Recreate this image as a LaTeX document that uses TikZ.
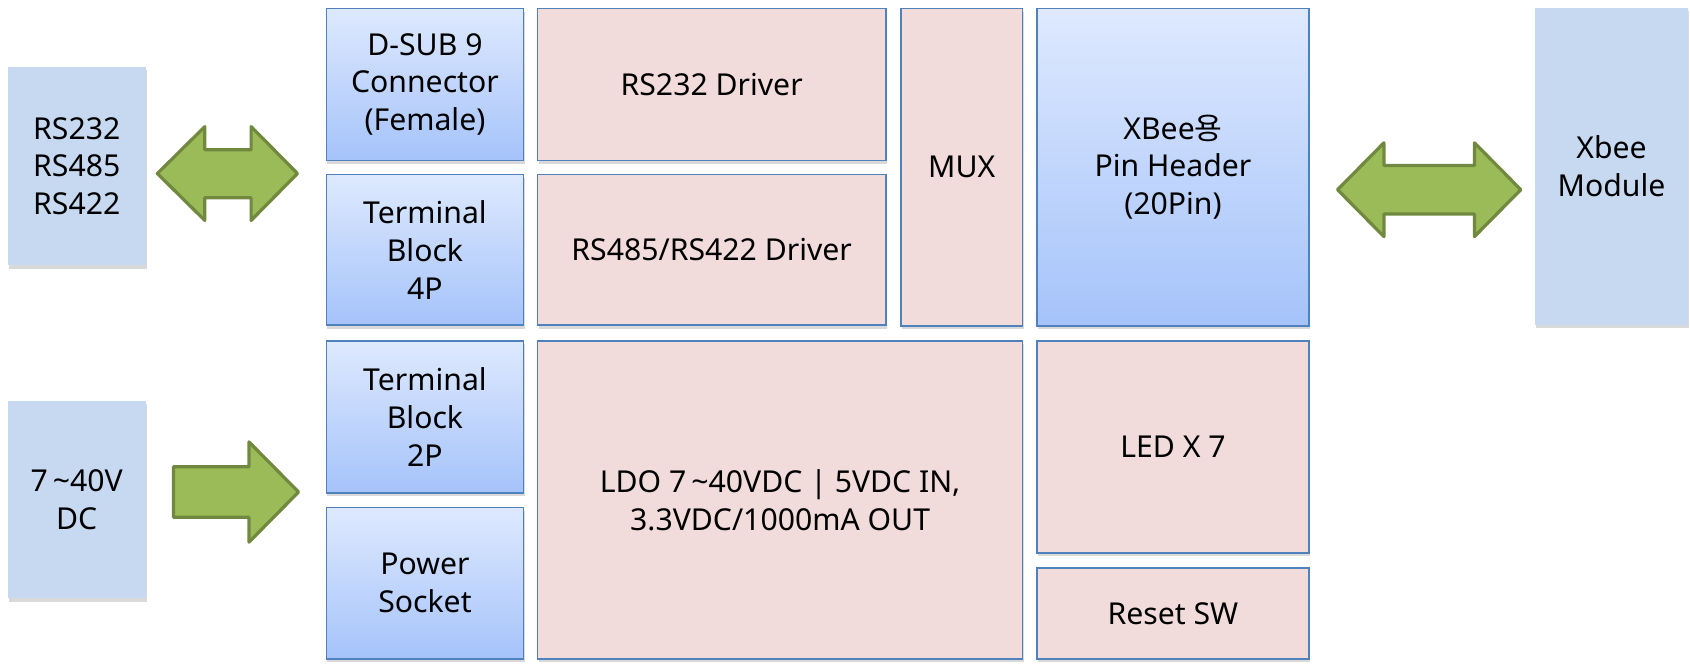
\documentclass[tikz,border=0pt]{standalone}
\usepackage{fontspec}
\setmainfont{Noto Sans}
\newfontfamily\krfont{Noto Sans CJK KR}
\usetikzlibrary{shadows}
\definecolor{bord}{HTML}{4F81BD}
\definecolor{pinkfill}{HTML}{F2DCDB}
\definecolor{lightblue}{HTML}{C6D9F1}
\definecolor{gtop}{HTML}{DEE9FE}
\definecolor{gbot}{HTML}{A5C3FA}
\definecolor{arrfill}{HTML}{9BBB59}
\definecolor{arrdraw}{HTML}{71893F}
\newcommand{\tld}{\,\textasciitilde}
\tikzset{
  lbl/.style={font=\fontsize{28}{35}\selectfont, align=center, text=black, inner sep=0pt, anchor=north west},
  shadowed/.style={drop shadow={shadow xshift=1pt, shadow yshift=-3pt, opacity=0.15, fill=black}},
  plainbox/.style={lbl, fill=lightblue, shadowed},
  gradbox/.style={lbl, draw=bord, line width=1.6pt, top color=gtop, bottom color=gbot, shadowed},
  pinkbox/.style={lbl, draw=bord, line width=1.6pt, fill=pinkfill, shadowed},
  blockarrow/.style={fill=arrfill, draw=arrdraw, line width=3pt, line join=round}
}
\begin{document}
\begin{tikzpicture}[x=1pt,y=-1pt]
\useasboundingbox (0,0) rectangle (1568,616);
% left column
\node[plainbox, minimum width=128pt, minimum height=184pt] (rs) at (7,62) {RS232\\RS485\\RS422};
\node[plainbox, minimum width=128pt, minimum height=183pt] (dc) at (7,372) {7\tld40V\\DC};
% connectors column
\node[gradbox, minimum width=183pt, minimum height=141pt] (dsub) at (302,7) {D-SUB 9\\Connector\\(Female)};
\node[gradbox, minimum width=183pt, minimum height=140pt] (tb4) at (302,161) {Terminal\\Block\\4P};
\node[gradbox, minimum width=183pt, minimum height=141pt] (tb2) at (302,315.5) {Terminal\\Block\\2P};
\node[gradbox, minimum width=183pt, minimum height=140.5pt] (ps) at (302,470) {Power\\Socket};
% drivers
\node[pinkbox, minimum width=323pt, minimum height=141pt] (d232) at (498,7) {RS232 Driver};
\node[pinkbox, minimum width=323pt, minimum height=140pt] (d485) at (498,161) {RS485/RS422 Driver};
\node[pinkbox, minimum width=113pt, minimum height=294.5pt] (mux) at (835,7) {MUX};
\node[pinkbox, minimum width=450pt, minimum height=295pt] (ldo) at (498,315.5) {LDO 7\tld40VDC | 5VDC IN,\\3.3VDC/1000mA OUT};
% right blocks
\node[gradbox, minimum width=252pt, minimum height=294.5pt] (xhdr) at (961.5,7) {XBee{\krfont 용}\\Pin Header\\(20Pin)};
\node[pinkbox, minimum width=252pt, minimum height=197pt] (led) at (961.5,315.5) {LED X 7};
\node[pinkbox, minimum width=252pt, minimum height=84.5pt] (rst) at (961.5,526) {Reset SW};
\node[plainbox, minimum width=142pt, minimum height=294pt] (xmod) at (1424,7) {Xbee\\Module};
% block arrows
\draw[blockarrow] (146,161) -- (190,117.5) -- (190,139) -- (233,139) -- (233,117.5) -- (276,161)
  -- (233,204.5) -- (233,183.5) -- (190,183.5) -- (190,204.5) -- cycle;
\draw[blockarrow] (1241,176) -- (1284,132.5) -- (1284,153.5) -- (1368,153.5) -- (1368,132.5) -- (1411,176)
  -- (1368,219.5) -- (1368,198.5) -- (1284,198.5) -- (1284,219.5) -- cycle;
\draw[blockarrow] (161,433) -- (231,433) -- (231,410) -- (277,456.5) -- (231,503) -- (231,480) -- (161,480) -- cycle;
\end{tikzpicture}
\end{document}
